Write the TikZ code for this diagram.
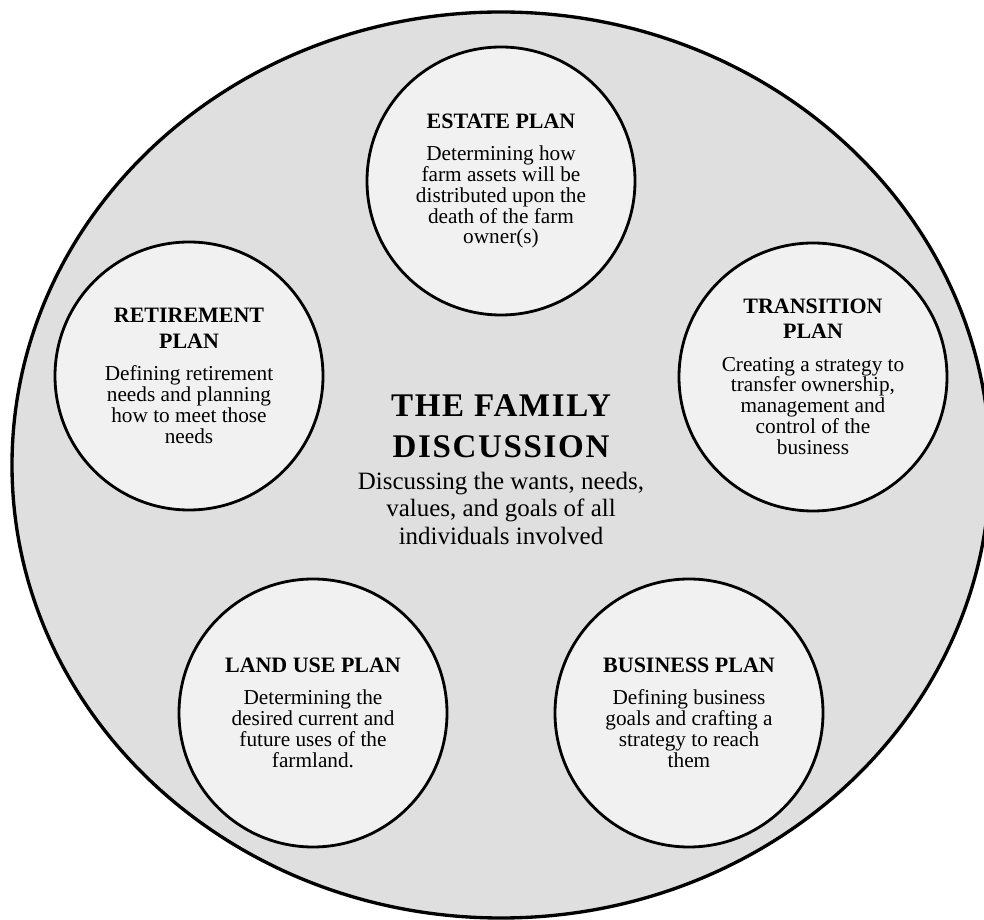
\documentclass[tikz,border=0pt]{standalone}
\usepackage{fontspec}
\setmainfont{Liberation Serif}
\usepackage{tikz}
\usetikzlibrary{shapes, positioning}

\newcommand{\PlanHead}[1]{{\bfseries\fontsize{12.5}{14.2}\selectfont #1}}
\newcommand{\FamilyHead}[1]{{\bfseries\fontsize{18.8}{23.2}\selectfont\addfontfeatures{LetterSpace=5}#1}}

\begin{document}
\begin{tikzpicture}
  [
    Outer/.style={ellipse, draw=black, fill=gray!25, line width=1.9pt, minimum width=19.56cm, minimum height=18.12cm},
    Plan/.style={circle, draw=black, fill=gray!11, line width=1.6pt, minimum size=5.36cm, inner sep=0pt, align=center, font=\fontsize{12.1}{11.9}\selectfont},
    Centre/.style={align=center, font=\fontsize{14.2}{15.9}\selectfont}
  ]
  \useasboundingbox (0,0) rectangle (19.68,18.38);

  % Nodes
  \node[Outer] (outer) at(10.02, 9.08) {};

  \node[Plan] (estate) at(10.02, 14.76) {\PlanHead{ESTATE PLAN}\\[6.5pt]
    Determining how\\ farm assets will be\\ distributed upon the\\ death of the farm\\ owner(s)};

  \node[Plan] (retire) at(3.78, 10.86) {\PlanHead{RETIREMENT}\\[2.4pt] \PlanHead{PLAN}\\[6.5pt]
    Defining retirement\\ needs and planning\\ how to meet those\\ needs};

  \node[Plan] (transit) at(16.26, 10.84) {\PlanHead{TRANSITION}\\[2.4pt] \PlanHead{PLAN}\\[6.5pt]
    Creating a strategy to\\ transfer ownership,\\ management and\\ control of the\\ business};

  \node[Plan] (land) at(6.26, 4.12) {\PlanHead{LAND USE PLAN}\\[6.5pt]
    Determining the\\ desired current and\\ future uses of the\\ farmland.};

  \node[Plan] (business) at(13.78, 4.12) {\PlanHead{BUSINESS PLAN}\\[6.5pt]
    Defining business\\ goals and crafting a\\ strategy to reach\\ them};

  \node[Centre] (family) at(10.02, 8.98) {\FamilyHead{THE FAMILY}\\[7.3pt] \FamilyHead{DISCUSSION}\\[2.1pt]
    Discussing the wants, needs,\\ values, and goals of all\\ individuals involved};

\end{tikzpicture}
\end{document}
